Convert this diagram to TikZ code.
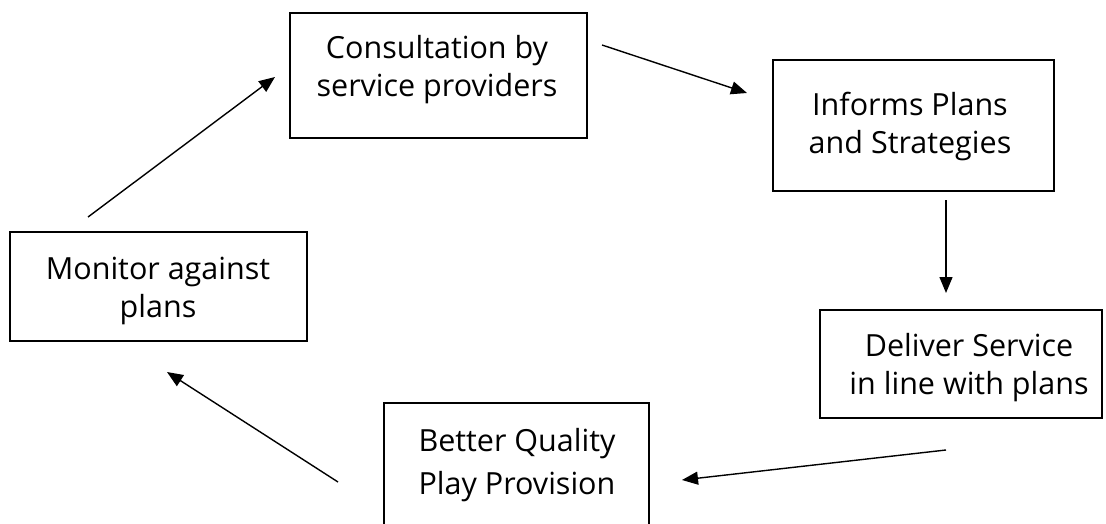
\documentclass[tikz,border=0pt]{standalone}
\usepackage{fontspec}
\setmainfont{Open Sans}
\usetikzlibrary{arrows.meta}
\begin{document}
\begin{tikzpicture}[x=1pt,y=-1pt,
  box/.style={draw=black,line width=1.8pt,rectangle,inner sep=0pt},
  label/.style={align=center,inner sep=0pt,font=\fontsize{30.5}{38}\selectfont},
  flow/.style={line width=1.4pt,-{Triangle[length=16pt,width=13pt]}}]
  \useasboundingbox[fill=white] (0,0) rectangle (1106,524);
  % boxes
  \node[box,minimum width=297pt,minimum height=125pt] (cons) at (438.5,75.5) {};
  \node[box,minimum width=281pt,minimum height=131pt] (inform) at (913.5,125.5) {};
  \node[box,minimum width=282pt,minimum height=108pt] (deliver) at (961,364) {};
  \node[box,minimum width=297pt,minimum height=109pt] (monitor) at (158.5,286.5) {};
  \node[box,minimum width=265pt,minimum height=167pt] (better) at (516.5,486.5) {};
  % texts
  \node[label] (consT) at (437,70) {Consultation by\\service providers};
  \node[label] (informT) at (910,126) {Informs Plans\\and Strategies};
  \node[label] (deliverT) at (969,368) {Deliver Service\\in line with plans};
  \node[label] (monitorT) at (158,291) {Monitor against\\plans};
  \node[label,font=\fontsize{30.5}{43}\selectfont] (betterT) at (517,465) {Better Quality\\Play Provision};
  % connector end points
  \coordinate (m1) at (88,217);   \coordinate (c1) at (275,77);
  \coordinate (c2) at (602,45);   \coordinate (i1) at (747,93);
  \coordinate (i2) at (946,200);  \coordinate (d1) at (946,293);
  \coordinate (d2) at (946,450);  \coordinate (b1) at (682,480);
  \coordinate (b2) at (338,482);  \coordinate (m2) at (167,372);
  % cycle arrows
  \draw[flow] (m1) -- (c1);
  \draw[flow] (c2) -- (i1);
  \draw[flow] (i2) -- (d1);
  \draw[flow] (d2) -- (b1);
  \draw[flow] (b2) -- (m2);
\end{tikzpicture}
\end{document}
